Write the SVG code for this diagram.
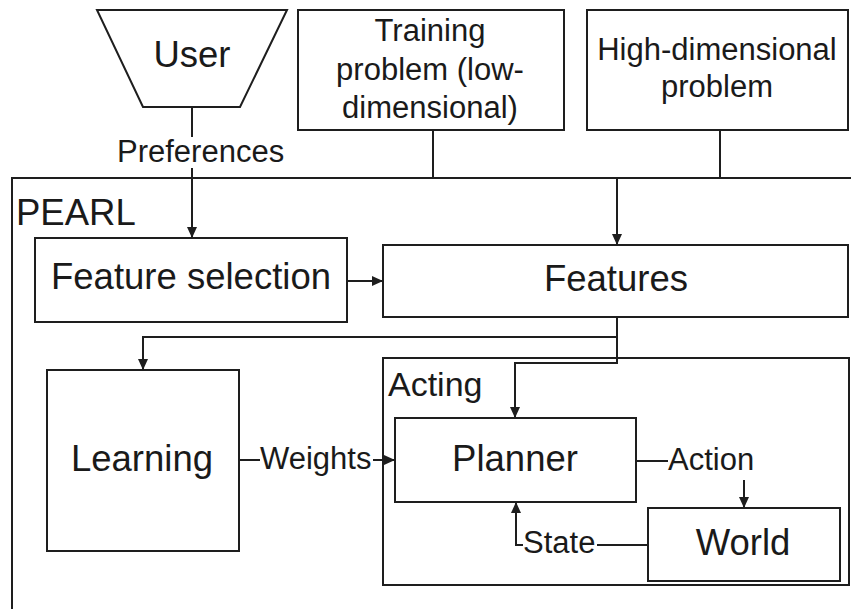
<svg xmlns="http://www.w3.org/2000/svg" width="851" height="609" viewBox="0 0 851 609">
  <style>
    .box { fill: #ffffff; stroke: #1e1e1e; stroke-width: 2; }
    .frame { fill: none; stroke: #1e1e1e; stroke-width: 2; }
    .wire { fill: none; stroke: #1e1e1e; stroke-width: 2; }
    .t { font-family: "Liberation Sans", Arial, sans-serif; fill: #1a1a1a; }
    .big { font-size: 36.5px; }
    .lab { font-size: 31px; }
  </style>
  <defs>
    <marker id="arrow" markerUnits="userSpaceOnUse" markerWidth="12" markerHeight="10" refX="11" refY="5" orient="auto">
      <path d="M0,0 L11,5 L0,10 z" fill="#1e1e1e"/>
    </marker>
  </defs>
  <rect width="851" height="609" fill="#ffffff"/>

  <!-- containers -->
  <g id="pearl">
    <rect class="frame" x="12" y="178" width="850" height="450"/>
    <text class="t big" x="16" y="225">PEARL</text>
  </g>
  <g id="acting">
    <rect class="frame" x="383" y="358" width="466" height="227"/>
    <text class="t lab" x="388" y="396" style="font-size:34px">Acting</text>
  </g>

  <!-- nodes -->
  <g id="user">
    <polygon class="box" points="97,10 287,10 240,107 143,107"/>
    <text class="t big" x="192" y="67" text-anchor="middle">User</text>
  </g>
  <g id="training">
    <rect class="box" x="298" y="10" width="266" height="120"/>
    <text class="t lab" x="430" y="41" text-anchor="middle">Training</text>
    <text class="t lab" x="430" y="80" text-anchor="middle">problem (low-</text>
    <text class="t lab" x="430" y="118" text-anchor="middle">dimensional)</text>
  </g>
  <g id="highdim">
    <rect class="box" x="587" y="10" width="261" height="120"/>
    <text class="t lab" x="717" y="60" text-anchor="middle">High-dimensional</text>
    <text class="t lab" x="717" y="97" text-anchor="middle">problem</text>
  </g>
  <g id="featureselection">
    <rect class="box" x="35" y="238" width="312" height="84"/>
    <text class="t big" x="191" y="289" text-anchor="middle">Feature selection</text>
  </g>
  <g id="features">
    <rect class="box" x="383" y="245" width="465" height="72"/>
    <text class="t big" x="616" y="291" text-anchor="middle">Features</text>
  </g>
  <g id="learning">
    <rect class="box" x="47" y="370" width="192" height="181"/>
    <text class="t big" x="142" y="471" text-anchor="middle">Learning</text>
  </g>
  <g id="planner">
    <rect class="box" x="395" y="418" width="241" height="84"/>
    <text class="t big" x="515" y="471" text-anchor="middle">Planner</text>
  </g>
  <g id="world">
    <rect class="box" x="648" y="508" width="192" height="73"/>
    <text class="t big" x="743" y="555" text-anchor="middle">World</text>
  </g>

  <!-- connectors -->
  <g id="connectors">
    <line class="wire" x1="192" y1="107" x2="192" y2="137"/>
    <line class="wire" x1="192" y1="168" x2="192" y2="238" marker-end="url(#arrow)"/>
    <line class="wire" x1="433" y1="130" x2="433" y2="178"/>
    <line class="wire" x1="720" y1="130" x2="720" y2="178"/>
    <line class="wire" x1="617" y1="178" x2="617" y2="245" marker-end="url(#arrow)"/>
    <line class="wire" x1="347" y1="281" x2="383" y2="281" marker-end="url(#arrow)"/>
    <path class="wire" d="M617,317 V337 H143 V370" marker-end="url(#arrow)"/>
    <path class="wire" d="M617,337 V363 H515 V418" marker-end="url(#arrow)"/>
    <line class="wire" x1="239" y1="460" x2="260" y2="460"/>
    <line class="wire" x1="373" y1="460" x2="395" y2="460" marker-end="url(#arrow)"/>
    <line class="wire" x1="636" y1="461" x2="668" y2="461"/>
    <line class="wire" x1="744" y1="480" x2="744" y2="508" marker-end="url(#arrow)"/>
    <line class="wire" x1="648" y1="545" x2="597" y2="545"/>
    <path class="wire" d="M523,545 H516 V502" marker-end="url(#arrow)"/>
  </g>

  <!-- connector labels -->
  <g id="labels">
    <text class="t lab" x="117" y="162">Preferences</text>
    <text class="t lab" x="260" y="469">Weights</text>
    <text class="t lab" x="668" y="470">Action</text>
    <text class="t lab" x="523" y="553">State</text>
  </g>
</svg>
